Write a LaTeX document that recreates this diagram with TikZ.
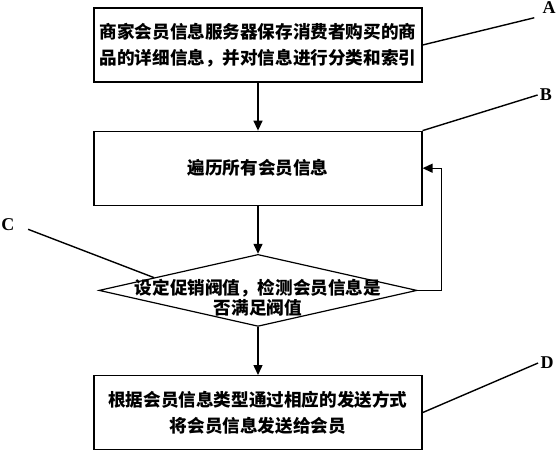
\documentclass[tikz,border=0pt]{standalone}
\usepackage{fontspec}
\setmainfont{Liberation Serif}
\newfontfamily\cjk{Noto Sans CJK SC}
\usetikzlibrary{shapes.geometric, arrows.meta, positioning}

\begin{document}
\begin{tikzpicture}[
  x=0.5pt, y=-0.5pt,
  node distance=24pt,
  stepbox/.style={rectangle, draw, line width=0.6pt, minimum width=164pt,
                  minimum height=37pt, inner sep=1pt, align=center,
                  font=\cjk\bfseries\fontsize{8.8}{13}\selectfont},
  judge/.style={diamond, draw, line width=0.6pt, minimum width=159pt,
                minimum height=36pt, inner sep=0pt},
  judgetext/.style={align=center, inner sep=0pt,
                    font=\cjk\bfseries\fontsize{8.8}{10}\selectfont},
  arrow/.style={-{Triangle[length=5pt, width=4.5pt]}, line width=0.7pt},
  leader/.style={line width=0.7pt},
  tag/.style={font=\bfseries\fontsize{9}{9}\selectfont, inner sep=1pt}
]
\useasboundingbox (0,0) rectangle (558,450);

\node[stepbox] (store) at (258,45) {商家会员信息服务器保存消费者购买的商\\品的详细信息，并对信息进行分类和索引};
\node[stepbox, below=of store] (scan) {遍历所有会员信息};
\node[judge, below=of scan] (check) {};
\node[judgetext] (checktxt) at ([yshift=-3.75pt]check.center) {设定促销阀值，检测会员信息是\\否满足阀值};
\node[stepbox, below=of check] (send) {根据会员信息类型通过相应的发送方式\\将会员信息发送给会员};

% tags
\node[tag] (tagA) at (549,8) {A};
\node[tag] (tagB) at (546,95) {B};
\node[tag] (tagC) at (8,225) {C};
\node[tag] (tagD) at (547,363) {D};

\draw[arrow] (store) -- (scan);
\draw[arrow] (scan)  -- (check);
\draw[arrow] (check) -- (send);
\draw[arrow] (check.east) -- ++(12pt,0) |- (scan.east);

\draw[leader, shorten >=3pt] (store.east) -- (tagA.south west);
\draw[leader] (scan.north east) -- (tagB.west);
\draw[leader, shorten <=6pt] (tagC.east) -- (check.173);
\draw[leader] (send.east) -- (tagD.west);

\end{tikzpicture}
\end{document}
